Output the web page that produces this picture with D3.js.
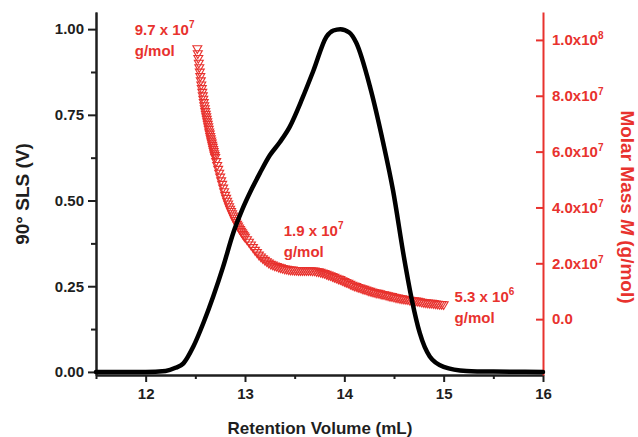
<!DOCTYPE html>
<html>
<head>
<meta charset="utf-8">
<script src="https://cdn.jsdelivr.net/npm/d3@7"></script>
<style>
body { margin: 0; background: #fff; }
svg { display: block; font-family: "Liberation Sans", Arial, sans-serif; font-weight: bold; }
</style>
</head>
<body>
<svg id="chart" width="638" height="437"></svg>
<script>

// light scattering trace (black line)
const slsVolume = [11.5, 12.0, 12.2, 12.3, 12.38, 12.48, 12.58, 12.68, 12.78, 12.88, 12.97, 13.07, 13.15, 13.25, 13.35, 13.45, 13.58, 13.69, 13.82, 13.89, 13.96, 14.05, 14.12, 14.26, 14.39, 14.49, 14.6, 14.68, 14.76, 14.86, 15.0, 15.23, 15.5, 16.0];
const slsSignal = [0.0, 0.0, 0.003, 0.012, 0.025, 0.074, 0.142, 0.22, 0.307, 0.404, 0.472, 0.535, 0.58, 0.632, 0.67, 0.715, 0.80, 0.88, 0.978, 0.996, 1.0, 0.99, 0.96, 0.83, 0.67, 0.53, 0.335, 0.21, 0.113, 0.045, 0.015, 0.003, 0.001, 0.0];

// molar mass points (red triangles), mass in units of 1e7 g/mol
const massVolume = [
    12.52, 12.525, 12.53, 12.535, 12.54, 12.545, 12.55, 12.555, 12.56, 12.565, 12.57, 12.575, 12.58, 12.585, 12.59, 12.595,
    12.6, 12.605, 12.61, 12.615, 12.62, 12.625, 12.63, 12.635, 12.64, 12.645, 12.65, 12.655, 12.66, 12.665, 12.67, 12.675,
    12.68, 12.685, 12.69, 12.695, 12.7,
    12.71, 12.72, 12.73, 12.74, 12.75, 12.76, 12.77, 12.78, 12.79, 12.8, 12.81, 12.82, 12.83, 12.84, 12.85,
    12.86, 12.87, 12.88, 12.89, 12.9, 12.91, 12.92, 12.93, 12.94, 12.95, 12.96, 12.97, 12.98, 12.99, 13.0,
    13.02, 13.04, 13.06, 13.08, 13.1, 13.12, 13.14, 13.16, 13.18, 13.2, 13.22, 13.24, 13.26, 13.28, 13.3,
    13.32, 13.34, 13.36, 13.38, 13.4, 13.42, 13.44, 13.46, 13.48, 13.5, 13.52, 13.54, 13.56, 13.58, 13.6,
    13.62, 13.64, 13.66, 13.68, 13.7, 13.72, 13.74, 13.76, 13.78, 13.8, 13.82, 13.84, 13.86, 13.88, 13.9,
    13.92, 13.94, 13.96, 13.98, 14.0, 14.02, 14.04, 14.06, 14.08, 14.1, 14.12, 14.14, 14.16, 14.18, 14.2,
    14.22, 14.24, 14.26, 14.28, 14.3, 14.32, 14.34, 14.36, 14.38, 14.4, 14.42, 14.44, 14.46, 14.48, 14.5,
    14.52, 14.54, 14.56, 14.58, 14.6, 14.62, 14.64, 14.66, 14.68, 14.7, 14.72, 14.74, 14.76, 14.78, 14.8,
    14.82, 14.84, 14.86, 14.88, 14.9, 14.92, 14.94, 14.96, 14.98, 15.0
];
const molarMass = [
    9.70, 9.52, 9.35, 9.18, 9.02, 8.86, 8.70, 8.55, 8.40, 8.27, 8.14, 8.01, 7.89, 7.77, 7.66, 7.55,
    7.45, 7.35, 7.26, 7.17, 7.08, 6.99, 6.90, 6.81, 6.72, 6.64, 6.55, 6.47, 6.39, 6.32, 6.24, 6.17,
    6.09, 6.02, 5.94, 5.87, 5.80,
    5.66, 5.52, 5.38, 5.24, 5.10, 4.97, 4.84, 4.71, 4.58, 4.45, 4.34, 4.24, 4.14, 4.04, 3.95,
    3.87, 3.79, 3.71, 3.63, 3.55, 3.48, 3.41, 3.35, 3.28, 3.22, 3.16, 3.11, 3.05, 3.00, 2.95,
    2.86, 2.77, 2.67, 2.58, 2.48, 2.40, 2.31, 2.24, 2.18, 2.12, 2.07, 2.02, 1.98, 1.95, 1.92,
    1.90, 1.87, 1.85, 1.83, 1.81, 1.80, 1.78, 1.77, 1.77, 1.76, 1.76, 1.75, 1.75, 1.75, 1.75,
    1.75, 1.75, 1.75, 1.74, 1.74, 1.72, 1.71, 1.69, 1.67, 1.65, 1.62, 1.59, 1.57, 1.54, 1.51,
    1.48, 1.45, 1.43, 1.39, 1.36, 1.33, 1.30, 1.26, 1.23, 1.20, 1.18, 1.15, 1.13, 1.10, 1.08,
    1.06, 1.03, 1.01, 0.99, 0.97, 0.95, 0.94, 0.92, 0.90, 0.89, 0.87, 0.85, 0.83, 0.82, 0.80,
    0.78, 0.77, 0.75, 0.74, 0.73, 0.72, 0.71, 0.69, 0.68, 0.67, 0.66, 0.65, 0.64, 0.62, 0.61,
    0.60, 0.59, 0.58, 0.58, 0.57, 0.56, 0.55, 0.54, 0.54, 0.53
];

// ticks
const volumeTicks = [12, 13, 14, 15, 16];
const volumeMinorTicks = [11.5, 12.5, 13.5, 14.5, 15.5];
const slsTicks = [0, 0.25, 0.5, 0.75, 1.0];
const slsMinorTicks = [0.125, 0.375, 0.625, 0.875];
const massTicks = [0, 2e7, 4e7, 6e7, 8e7, 1e8];
const massTickLabels = [["0.0", ""], ["2.0x10", "7"], ["4.0x10", "7"], ["6.0x10", "7"], ["8.0x10", "7"], ["1.0x10", "8"]];

// annotations: label, exponent, anchor volume, anchor mass
const noteText = [["9.7 x 10", "7"], ["1.9 x 10", "7"], ["5.3 x 10", "6"]];
const noteVolume = [11.89, 13.39, 15.11];
const noteMass = [10.18e7, 2.98e7, 0.61e7];

const red = "#e8322e";
const dark = "#1e1e1e";

const svg = d3.select("#chart");

const x = d3.scaleLinear().domain([11.5, 16]).range([96, 543]);
const ySls = d3.scaleLinear().domain([-0.009, 1.05]).range([375, 12]);
const yMass = d3.scaleLinear().domain([-2e7, 1.1e8]).range([375, 12]);

//styles an axis group
const styleAxis = (g, color, size) => {
    g.select(".domain").attr("stroke", color).attr("stroke-width", 2);
    g.selectAll(".tick line").attr("stroke", color).attr("stroke-width", 2);
    g.selectAll(".tick text")
        .attr("fill", color)
        .attr("font-size", size)
        .attr("font-family", "'Liberation Sans', Arial, sans-serif")
        .attr("font-weight", "bold");
}

// minor ticks first so majors sit on top
svg.append("g")
    .attr("transform", "translate(0,375)")
    .call(d3.axisBottom(x).tickValues(volumeMinorTicks).tickFormat("").tickSize(4).tickSizeOuter(0))
    .call(g => styleAxis(g, dark, 15));

svg.append("g")
    .attr("transform", "translate(96,0)")
    .call(d3.axisLeft(ySls).tickValues(slsMinorTicks).tickFormat("").tickSize(5).tickSizeOuter(0))
    .call(g => styleAxis(g, dark, 15));

svg.append("g")
    .attr("transform", "translate(0,375)")
    .call(d3.axisBottom(x).tickValues(volumeTicks).tickFormat(d3.format("d")).tickSize(7).tickPadding(6).tickSizeOuter(0))
    .call(g => styleAxis(g, dark, 15));

svg.append("g")
    .attr("transform", "translate(96,0)")
    .call(d3.axisLeft(ySls).tickValues(slsTicks).tickFormat(d3.format(".2f")).tickSize(8).tickPadding(4).tickSizeOuter(0))
    .call(g => styleAxis(g, dark, 15));

const massAxis = svg.append("g")
    .attr("transform", "translate(543,0)")
    .call(d3.axisRight(yMass).tickValues(massTicks).tickSizeInner(-7).tickSizeOuter(0).tickPadding(9))
    .call(g => styleAxis(g, red, 15));

// swap in labels with superscript exponents
massAxis.selectAll(".tick text").each(function (d, i) {
    const t = d3.select(this).text("");
    t.append("tspan").text(massTickLabels[i][0]);
    if (massTickLabels[i][1]) {
        t.append("tspan").attr("font-size", 10).attr("dy", -6).text(massTickLabels[i][1]);
    }
});

// molar mass markers
const triangle = d3.symbol(d3.symbolTriangle, 34);

svg.append("g")
    .attr("fill", "none")
    .attr("stroke", red)
    .attr("stroke-width", 1.15)
    .selectAll("path")
    .data(massVolume)
    .join("path")
    .attr("transform", (d, i) => `translate(${x(d)},${yMass(molarMass[i] * 1e7)}) rotate(180)`)
    .attr("d", triangle);

// light scattering line
const slsLine = d3.line()
    .x((d, i) => x(slsVolume[i]))
    .y(d => ySls(d))
    .curve(d3.curveMonotoneX);

svg.append("path")
    .datum(slsSignal)
    .attr("fill", "none")
    .attr("stroke", "#000")
    .attr("stroke-width", 4.5)
    .attr("stroke-linejoin", "round")
    .attr("stroke-linecap", "round")
    .attr("d", slsLine);

// red annotations
noteText.forEach((n, i) => {
    const px = x(noteVolume[i]);
    const py = yMass(noteMass[i]);
    const t = svg.append("text")
        .attr("x", px)
        .attr("y", py)
        .attr("fill", red)
        .attr("font-size", 15);
    t.append("tspan").text(n[0]);
    t.append("tspan").attr("font-size", 10).attr("dy", -7).text(n[1]);
    svg.append("text")
        .attr("x", px)
        .attr("y", py + 21)
        .attr("fill", red)
        .attr("font-size", 15)
        .text("g/mol");
});

// axis titles
svg.append("text")
    .attr("transform", "translate(29,194) rotate(-90)")
    .attr("text-anchor", "middle")
    .attr("fill", dark)
    .attr("font-size", 19)
    .text("90° SLS (V)");

svg.append("text")
    .attr("x", 320)
    .attr("y", 434)
    .attr("text-anchor", "middle")
    .attr("fill", dark)
    .attr("font-size", 17)
    .text("Retention Volume (mL)");

const massTitle = svg.append("text")
    .attr("transform", "translate(621,207) rotate(90)")
    .attr("text-anchor", "middle")
    .attr("fill", red)
    .attr("font-size", 19);
massTitle.append("tspan").text("Molar Mass ");
massTitle.append("tspan").attr("font-style", "italic").text("M");
massTitle.append("tspan").text(" (g/mol)");

</script>
</body>
</html>
